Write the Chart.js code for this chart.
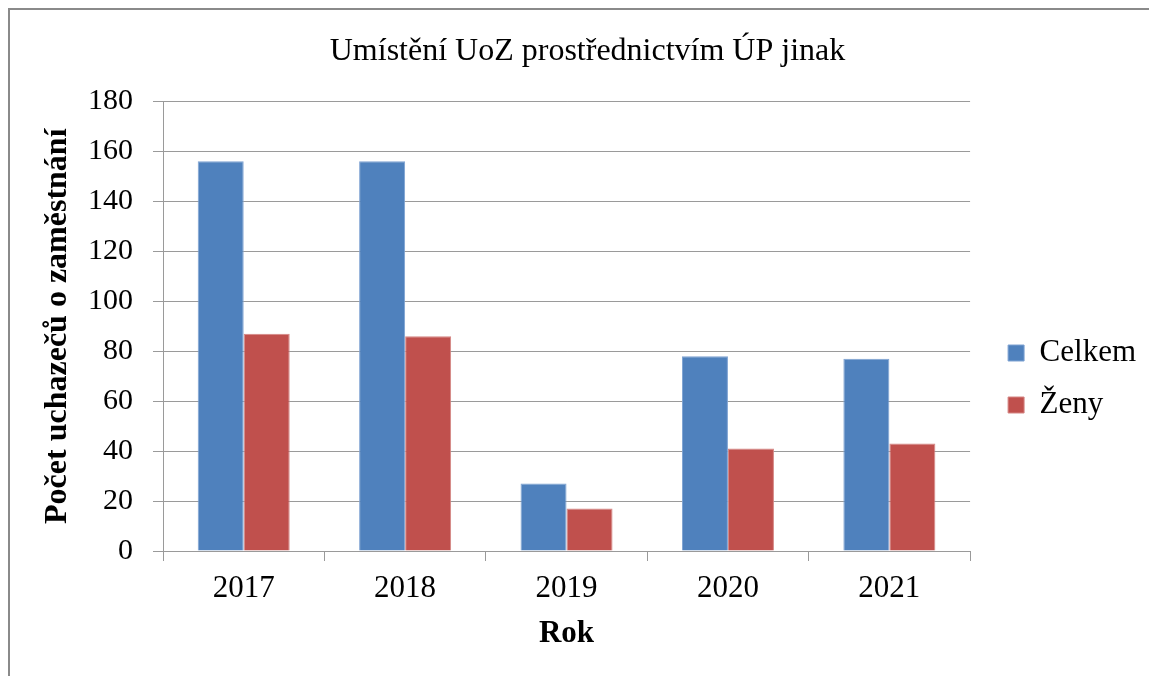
<!DOCTYPE html>
<html lang="cs">
<head>
<meta charset="utf-8">
<title>Umístění UoZ prostřednictvím ÚP jinak</title>
<script src="https://cdn.jsdelivr.net/npm/chart.js@4/dist/chart.umd.min.js"></script>
<style>
    body { margin: 0; background: #fff; }
    .frame {
        position: absolute; left: 8px; top: 8px; right: 0; bottom: 0;
        border-top: 2px solid #8a8a8a; border-left: 2px solid #8a8a8a;
    }
    .chart-box { position: absolute; left: 10px; top: 10px; width: 1139px; height: 666px; }
</style>
</head>
<body>
<div class="frame"></div>
<div class="chart-box"><canvas id="uozChart"></canvas></div>
<script>
// data
const years = ['2017', '2018', '2019', '2020', '2021'];
const celkem = [156, 156, 27, 78, 77];
const zeny = [87, 86, 17, 41, 43];
const yTicks = [0, 20, 40, 60, 80, 100, 120, 140, 160, 180];

const serif = "'Liberation Serif', 'Times New Roman', serif";
const gridColor = '#9a9a9a';

// legenda a nadpis posunuté jako v originále
const boxShift = {
    id: 'boxShift',
    afterLayout(chart) {
        const lg = chart.legend;
        lg.left += 17; lg.right += 17;
        lg.top += 36; lg.bottom += 36;
        const tb = chart.titleBlock;
        tb.left += 18; tb.right += 18;
    }
};

new Chart(document.getElementById('uozChart'), {
    type: 'bar',
    data: {
        labels: years,
        datasets: [{
            label: 'Celkem',
            data: celkem,
            backgroundColor: '#4F81BD',
            borderColor: '#7EA2D2',
            borderWidth: 1
        }, {
            label: 'Ženy',
            data: zeny,
            backgroundColor: '#C0504D',
            borderColor: '#D58684',
            borderWidth: 1
        }]
    },
    options: {
        responsive: true,
        maintainAspectRatio: false,
        animation: false,
        datasets: {
            bar: { categoryPercentage: 0.57, barPercentage: 1 }
        },
        layout: { padding: { left: 0, right: 20, top: 0, bottom: 0 } },
        plugins: {
            title: {
                display: true,
                text: 'Umístění UoZ prostřednictvím ÚP jinak',
                color: '#000',
                font: { family: serif, size: 32, weight: 'normal' },
                padding: { top: 22, bottom: 31 }
            },
            legend: {
                position: 'right',
                labels: {
                    color: '#000',
                    font: { family: serif, size: 31 },
                    boxWidth: 16,
                    boxHeight: 16,
                    padding: 21
                }
            },
            tooltip: { enabled: false }
        },
        scales: {
            x: {
                grid: {
                    offset: true,
                    drawOnChartArea: false,
                    drawTicks: true,
                    tickLength: 10,
                    color: gridColor
                },
                border: { color: gridColor },
                ticks: {
                    color: '#000',
                    font: { family: serif, size: 31 },
                    padding: 9
                },
                title: {
                    display: true,
                    text: 'Rok',
                    color: '#000',
                    font: { family: serif, size: 31, weight: 'bold' },
                    padding: { top: 0, bottom: 23 }
                },
                afterFit(scale) { scale.height = 125; }
            },
            y: {
                min: 0,
                max: 180,
                afterBuildTicks(scale) { scale.ticks = yTicks.map(v => ({ value: v })); },
                grid: { color: gridColor, tickLength: 10 },
                border: { color: gridColor },
                ticks: {
                    color: '#000',
                    font: { family: serif, size: 30 },
                    padding: 20
                },
                title: {
                    display: true,
                    text: 'Počet uchazečů o zaměstnání',
                    color: '#000',
                    font: { family: serif, size: 32, weight: 'bold' },
                    padding: { top: 29, bottom: 0 }
                },
                afterFit(scale) { scale.width = 153; }
            }
        }
    },
    plugins: [boxShift]
});
</script>
</body>
</html>
